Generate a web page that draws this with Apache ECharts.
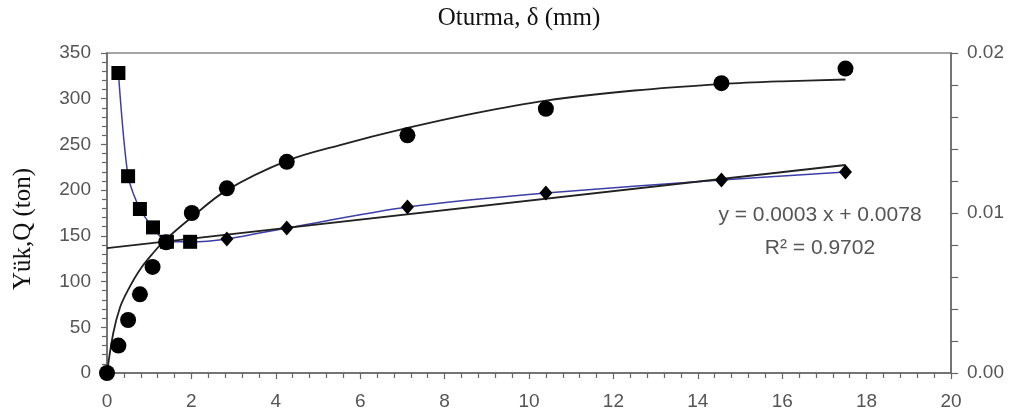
<!DOCTYPE html>
<html><head><meta charset="utf-8">
<script src="https://cdn.jsdelivr.net/npm/echarts@6/dist/echarts.min.js"></script>
<style>html,body{margin:0;padding:0;background:#fff}#c{width:1016px;height:419px}</style>
</head><body><div id="c"></div>
<script>
// Load-settlement points (settlement mm, load ton)
const circX = [0, 0.27, 0.5, 0.78, 1.08, 1.4, 2.01, 2.84, 4.26, 7.12, 10.4, 14.56, 17.5];
const circQ = [0, 30, 58, 86, 116, 143, 175, 202, 231, 260, 289, 317, 333];
// Fitted curve through load-settlement points
const fitX = [0, 0.15, 0.31, 0.5, 0.78, 1.09, 1.37, 2.0, 2.84, 4.26, 5.5, 7.12, 8.7, 10.4, 12.5, 14.56, 16, 17.5];
const fitQ = [0, 44, 72, 91, 113, 131, 145, 170, 200, 232, 249, 268, 284, 298, 309, 316, 319, 321];
// Squares (right axis)
const sqX = [0.27, 0.5, 0.78, 1.09, 1.42, 1.97];
const sqV = [0.01875, 0.0123, 0.01025, 0.0091, 0.0082, 0.0082];
// Diamonds (right axis)
const dmX = [2.84, 4.26, 7.12, 10.4, 14.56, 17.5];
const dmV = [0.00838, 0.00906, 0.01037, 0.01125, 0.01206, 0.01256];
// Linear trendline (right axis)
const trendX = [0, 17.5];
const trendV = [0.0078, 0.0130];
// Axis ticks
const xTicks = {min: 0, max: 20, interval: 2};
const yLeft = {min: 0, max: 350, interval: 50};
const yRight = {min: 0, max: 0.02, interval: 0.01};

const zip = (a, b) => a.map((v, i) => [v, b[i]]);
const blueLine = zip(sqX, sqV).concat(zip(dmX, dmV));

const lbl = {color: '#555', fontFamily: 'Liberation Sans, Arial', fontSize: 19};
const axLine = {show: true, lineStyle: {color: '#666', width: 1.5}};
const tickStyle = {color: '#666', width: 1.2};

const chart = echarts.init(document.getElementById('c'));
chart.setOption({
  animation: false,
  backgroundColor: '#fff',
  title: {text: 'Oturma, δ (mm)', left: 514, top: 1, textAlign: 'center',
    textStyle: {fontFamily: 'Liberation Serif, Times New Roman', fontWeight: 'normal', fontSize: 25, color: '#111'}},
  grid: {left: 107, right: 65, top: 53, bottom: 46, show: true, borderColor: '#888', borderWidth: 1.5},
  xAxis: {type: 'value', min: xTicks.min, max: xTicks.max, interval: xTicks.interval,
    axisLine: axLine, axisTick: {show: true, inside: false, length: 6, lineStyle: tickStyle},
    minorTick: {show: true, splitNumber: 5, length: 5, lineStyle: tickStyle},
    splitLine: {show: false}, axisLabel: Object.assign({margin: 19}, lbl)},
  yAxis: [
    {type: 'value', min: yLeft.min, max: yLeft.max, interval: yLeft.interval,
      axisLine: axLine, axisTick: {show: true, length: 6, lineStyle: tickStyle},
      minorTick: {show: true, splitNumber: 5, length: 5, lineStyle: tickStyle},
      splitLine: {show: false}, axisLabel: Object.assign({margin: 16}, lbl)},
    {type: 'value', min: yRight.min, max: yRight.max, interval: yRight.interval, position: 'right',
      axisLine: axLine, axisTick: {show: true, length: 7, lineStyle: tickStyle},
      minorTick: {show: true, splitNumber: 5, length: 7, lineStyle: tickStyle},
      splitLine: {show: false},
      axisLabel: Object.assign({margin: 16, formatter: v => v.toFixed(2)}, lbl)}
  ],
  graphic: [
    {type: 'text', x: 23, y: 229, rotation: Math.PI / 2,
      style: {text: 'Yük,Q (ton)', x: 0, y: 0, textAlign: 'center', textVerticalAlign: 'middle', fill: '#111', font: '25px Liberation Serif, Times New Roman'}},
    {type: 'text', style: {text: 'y = 0.0003 x + 0.0078', x: 820, y: 215, textAlign: 'center', textVerticalAlign: 'middle', fill: '#555', font: '21px Liberation Sans, Arial'}},
    {type: 'text', style: {text: 'R² = 0.9702', x: 820, y: 248, textAlign: 'center', textVerticalAlign: 'middle', fill: '#555', font: '21px Liberation Sans, Arial'}}
  ],
  series: [
    {type: 'line', yAxisIndex: 0, data: zip(fitX, fitQ), smooth: 0.35, showSymbol: false,
      lineStyle: {color: '#222', width: 1.8}, z: 2},
    {type: 'line', yAxisIndex: 1, data: blueLine, smooth: 0.25, showSymbol: false,
      lineStyle: {color: '#3d3da8', width: 1.5}, z: 2},
    {type: 'line', yAxisIndex: 1, data: zip(trendX, trendV), showSymbol: false,
      lineStyle: {color: '#222', width: 1.8}, z: 3},
    {type: 'scatter', yAxisIndex: 0, data: zip(circX, circQ), symbol: 'circle', symbolSize: 16,
      itemStyle: {color: '#000', opacity: 1}, z: 5},
    {type: 'scatter', yAxisIndex: 1, data: zip(sqX, sqV), symbol: 'rect', symbolSize: 14,
      itemStyle: {color: '#000', opacity: 1}, z: 5},
    {type: 'scatter', yAxisIndex: 1, data: zip(dmX, dmV), symbol: 'diamond', symbolSize: [13, 15],
      itemStyle: {color: '#000', opacity: 1}, z: 5}
  ]
});
</script></body></html>
